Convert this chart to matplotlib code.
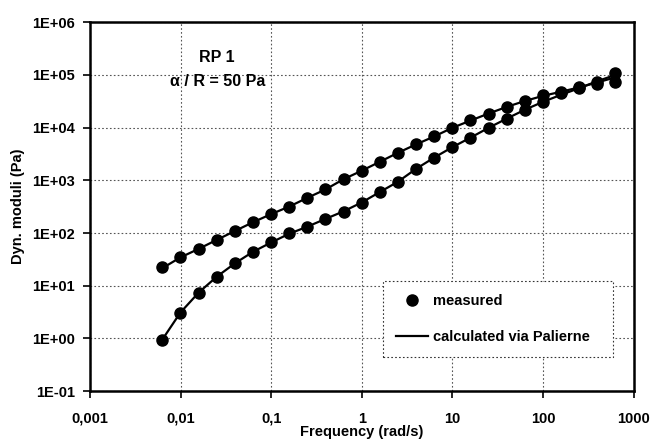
import matplotlib
matplotlib.use("Agg")
import matplotlib.pyplot as plt
from matplotlib.ticker import FixedLocator, FixedFormatter, NullLocator
from matplotlib.lines import Line2D

plt.rcParams["font.family"] = ["Liberation Sans", "DejaVu Sans"]
plt.rcParams["font.weight"] = "bold"

# angular frequency (rad/s)
freq = [0.00628, 0.00995, 0.0158, 0.025, 0.0396, 0.0628, 0.0995, 0.158, 0.25, 0.396,
        0.628, 0.995, 1.58, 2.5, 3.96, 6.28, 9.95, 15.8, 25.0, 39.6,
        62.8, 99.5, 158, 250, 396, 628]

# measured moduli (Pa)
g_loss = [22.2, 34.9, 50, 74.6, 110, 161, 228, 315, 468, 672,
          1054, 1514, 2254, 3342, 4800, 6810, 9950, 13700, 18400, 24500,
          31800, 40800, 45500, 56000, 68000, 72000]
g_stor = [0.95, 3.07, 7.2, 14.6, 26.5, 44, 67, 100, 131, 182,
          254, 376, 608, 925, 1660, 2690, 4270, 6430, 9950, 14750,
          21900, 30500, 46500, 58500, 72000, 108000]

# Palierne model
calc_loss = [21.5, 34.5, 50, 74, 109, 160, 228, 318, 465, 670,
             1050, 1520, 2250, 3330, 4800, 6800, 9900, 13600, 18500, 24700,
             32000, 40000, 48000, 58000, 72000, 90000]
calc_stor = [0.95, 3.1, 7.4, 14.8, 26.5, 44, 66, 97, 132, 185,
             258, 380, 600, 940, 1650, 2700, 4250, 6450, 9900, 14800,
             21800, 30800, 42000, 56000, 76000, 100000]

yticks = [1e-1, 1e0, 1e1, 1e2, 1e3, 1e4, 1e5, 1e6]
ylabels = ["1E-01", "1E+00", "1E+01", "1E+02", "1E+03", "1E+04", "1E+05", "1E+06"]
xticks = [0.001, 0.01, 0.1, 1, 10, 100, 1000]
xlabels = ["0,001", "0,01", "0,1", "1", "10", "100", "1000"]

fig = plt.figure(figsize=(6.52, 4.44), dpi=100)
ax = fig.add_axes([0.138, 0.119, 0.834, 0.831])

ax.plot(freq, calc_loss, color="black", lw=1.6, zorder=2)
ax.plot(freq, calc_stor, color="black", lw=1.6, zorder=2)
ax.plot(freq, g_loss, "o", color="black", ms=8, zorder=3)
ax.plot(freq, g_stor, "o", color="black", ms=8, zorder=3)

ax.set_xscale("log")
ax.set_yscale("log")
ax.set_xlim(0.001, 1000)
ax.set_ylim(0.1, 1e6)
ax.xaxis.set_major_locator(FixedLocator(xticks))
ax.xaxis.set_major_formatter(FixedFormatter(xlabels))
ax.yaxis.set_major_locator(FixedLocator(yticks))
ax.yaxis.set_major_formatter(FixedFormatter(ylabels))
ax.xaxis.set_minor_locator(NullLocator())
ax.yaxis.set_minor_locator(NullLocator())
ax.tick_params(direction="out", length=5, width=1.2, labelsize=10.5, pad=6)
ax.tick_params(axis="x", pad=10)

ax.grid(True, color="#555555", ls=(0, (1.5, 2)), lw=0.8)
ax.set_axisbelow(True)
for s in ax.spines.values():
    s.set_linewidth(1.8)

ax.set_xlabel("Frequency (rad/s)", fontsize=10.5, fontweight="bold", labelpad=-1)
ax.set_ylabel("Dyn. moduli (Pa)", fontsize=10.5, fontweight="bold", labelpad=5)

ax.text(0.233, 0.905, "RP 1", transform=ax.transAxes, ha="center", va="center",
        fontsize=11.5, fontweight="bold")
ax.text(0.235, 0.840, "α / R = 50 Pa", transform=ax.transAxes, ha="center", va="center",
        fontsize=11.5, fontweight="bold")

handles = [Line2D([], [], ls="none", marker="o", color="black", ms=8),
           Line2D([], [], color="black", lw=1.6)]
leg = ax.legend(handles, ["measured", "calculated via Palierne"],
                loc="lower left", bbox_to_anchor=(0.539, 0.092, 0.423, 0.203),
                mode="expand", fontsize=10.5, frameon=True, fancybox=False,
                borderpad=0.9, labelspacing=1.5, handlelength=2.2,
                handletextpad=0.3, borderaxespad=0)
fr = leg.get_frame()
fr.set_edgecolor("#333333")
fr.set_linestyle((0, (1.5, 2)))
fr.set_linewidth(0.8)
fr.set_facecolor("white")
fr.set_alpha(1)

fig.savefig("out.png", dpi=100)
